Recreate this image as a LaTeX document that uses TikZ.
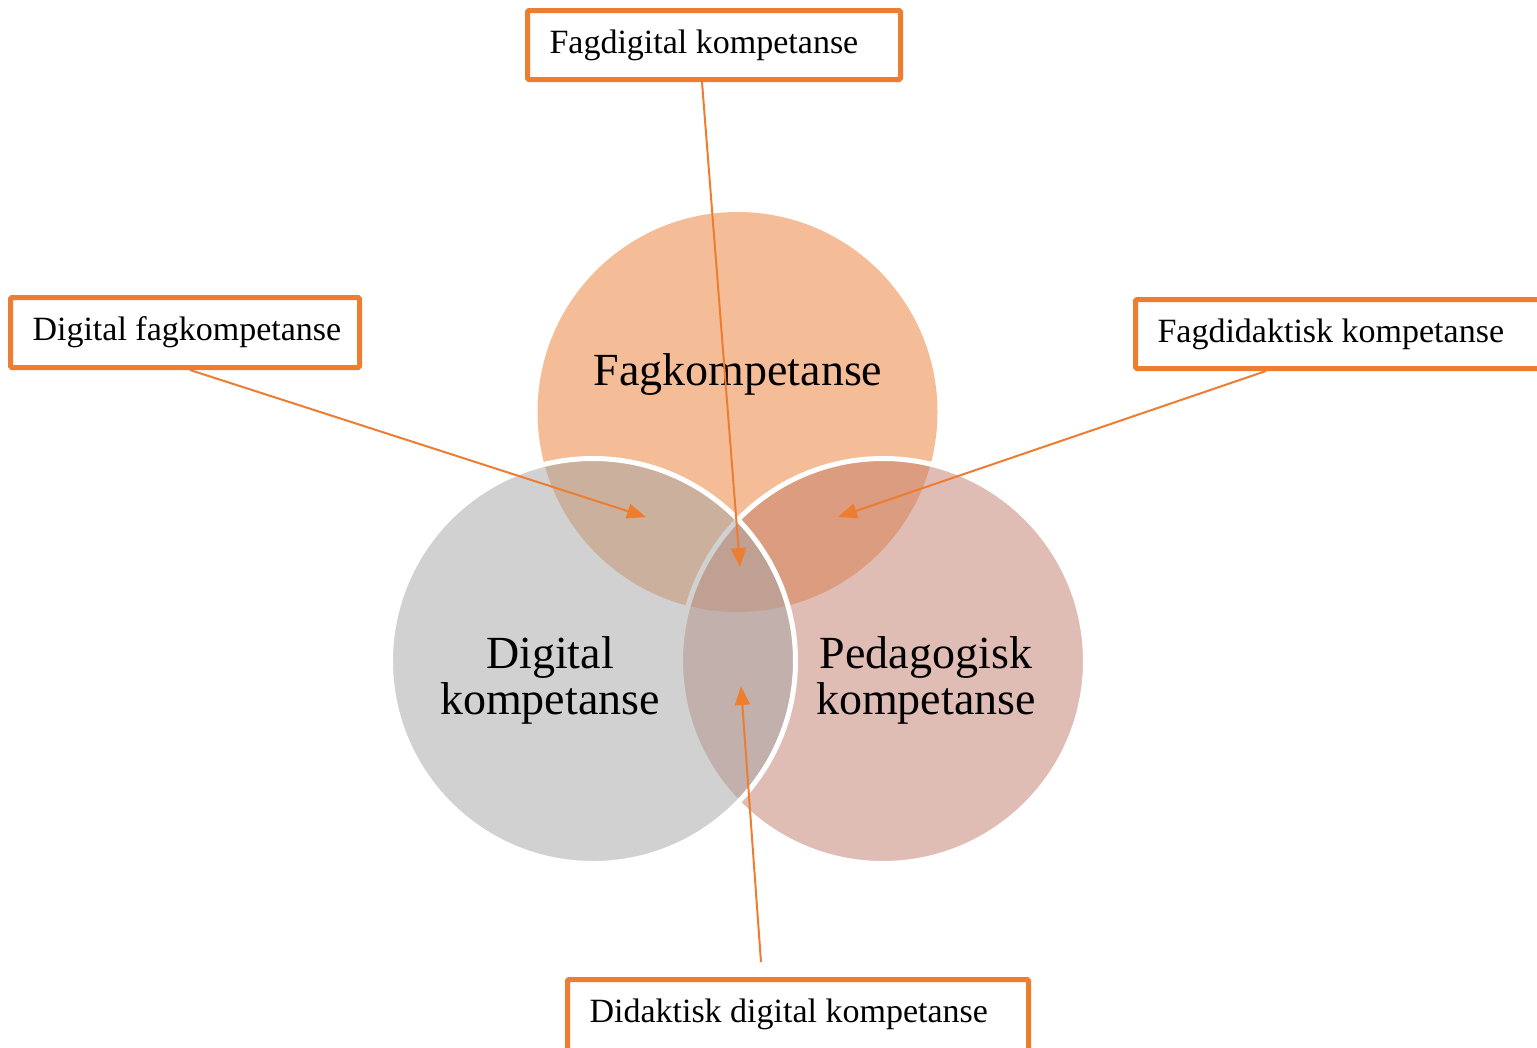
\documentclass[tikz,border=0pt]{standalone}
\usepackage{fontspec}
\setmainfont{Liberation Serif}
\usetikzlibrary{arrows.meta,calc}
\definecolor{accorange}{HTML}{ED7D31}
\definecolor{accgray}{HTML}{A5A5A5}
\definecolor{accrose}{HTML}{C37D6B}

\begin{document}
\begin{tikzpicture}[x=1pt,y=-1pt,
  set/.style={circle,minimum size=400pt,inner sep=0pt,fill opacity=0.5},
  ring/.style={draw=white,line width=5pt,minimum size=405pt},
  setlabel/.style={font=\fontsize{46}{46}\selectfont,align=center,inner sep=0pt},
  tagbox/.style={draw=accorange,line width=5pt,fill=white,rounded corners=1.5pt,
    anchor=north west,minimum height=69pt,inner xsep=22pt,inner ysep=0pt,
    font=\fontsize{34}{40}\selectfont},
  conn/.style={draw=accorange,line width=2pt,-{Triangle[length=19pt,width=15pt]}}]

\fill[white] (0,0) rectangle (1537,1047);
\useasboundingbox (0,0) rectangle (1537,1047);

% the three overlapping sets (drawn top, right, left)
\node[set,fill=accorange] (top) at (737.5,412) {};
\node[set,ring,fill=accrose] (right) at (883,661) {};
\node[set,ring,fill=accgray] (left) at (593,661) {};

\node[setlabel,anchor=base] (toplbl) at (738,385) {Fagkompetanse};
\node[setlabel] (leftlbl) at (550,680) {Digital\\kompetanse};
\node[setlabel] (rightlbl) at (926,680) {Pedagogisk\\kompetanse};

% callout boxes
\node[tagbox] (fd) at (525,8) {\makebox[329pt][l]{Fagdigital kompetanse}};
\node[tagbox,minimum height=70pt] (df) at (8,295) {\makebox[305pt][l]{Digital fagkompetanse}};
\node[tagbox] (fdd) at (1133,297) {\makebox[390pt][l]{Fagdidaktisk kompetanse}};
\node[tagbox,minimum height=80pt,text depth=18pt] (dd) at (565,977)
  {\makebox[417pt][l]{Didaktisk digital kompetanse}};

% arrow targets inside the overlaps
\coordinate (tipall) at (740,567);
\coordinate (tipdf) at (646,517);
\coordinate (tipfdd) at (838,517);
\coordinate (tipdd) at (741,686);
\coordinate (ddstart) at (761,962);

\draw[conn] ($(fd.south west)+(177,0)$) -- (tipall);
\draw[conn] ($(df.south west)+(182,0)$) -- (tipdf);
\draw[conn] ($(fdd.south west)+(133,0)$) -- (tipfdd);
\draw[conn] (ddstart) -- (tipdd);
\end{tikzpicture}
\end{document}
